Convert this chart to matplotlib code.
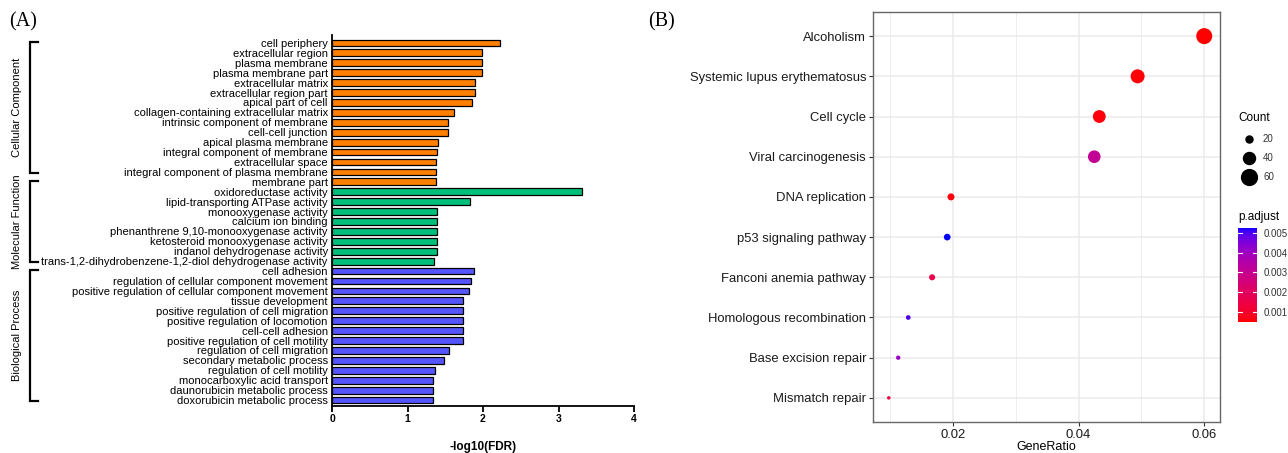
import numpy as np
import matplotlib
matplotlib.use("Agg")
import matplotlib.pyplot as plt
import matplotlib.transforms as mtransforms
from matplotlib.colors import ListedColormap, Normalize, to_rgb
from matplotlib.cm import ScalarMappable

W, H = 1288, 453

# ---- GO enrichment (panel A) ----
go_terms = [
    "cell periphery", "extracellular region", "plasma membrane",
    "plasma membrane part", "extracellular matrix", "extracellular region part",
    "apical part of cell", "collagen-containing extracellular matrix",
    "intrinsic component of membrane", "cell-cell junction",
    "apical plasma membrane", "integral component of membrane",
    "extracellular space", "integral component of plasma membrane",
    "membrane part",
    "oxidoreductase activity", "lipid-transporting ATPase activity",
    "monooxygenase activity", "calcium ion binding",
    "phenanthrene 9,10-monooxygenase activity",
    "ketosteroid monooxygenase activity", "indanol dehydrogenase activity",
    "trans-1,2-dihydrobenzene-1,2-diol dehydrogenase activity",
    "cell adhesion", "regulation of cellular component movement",
    "positive regulation of cellular component movement", "tissue development",
    "positive regulation of cell migration", "positive regulation of locomotion",
    "cell-cell adhesion", "positive regulation of cell motility",
    "regulation of cell migration", "secondary metabolic process",
    "regulation of cell motility", "monocarboxylic acid transport",
    "daunorubicin metabolic process", "doxorubicin metabolic process",
]
go_values = [
    2.22, 1.99, 1.99, 1.99, 1.90, 1.90, 1.85, 1.61, 1.54, 1.53,
    1.40, 1.39, 1.375, 1.375, 1.375,
    3.31, 1.83, 1.385, 1.385, 1.385, 1.385, 1.385, 1.35,
    1.88, 1.84, 1.82, 1.73, 1.73, 1.73, 1.73, 1.73, 1.55, 1.48,
    1.36, 1.34, 1.34, 1.34,
]
go_groups = (["Cellular Component"] * 15 + ["Molecular Function"] * 8
             + ["Biological Process"] * 14)
# first/last bar index covered by each side bracket
bracket_spans = {
    "Cellular Component": (0, 13),
    "Molecular Function": (14, 22),
    "Biological Process": (23, 36),
}
go_xticks = [0, 1, 2, 3, 4]

# ---- KEGG dot plot (panel B) ----
kegg_terms = [
    "Alcoholism", "Systemic lupus erythematosus", "Cell cycle",
    "Viral carcinogenesis", "DNA replication", "p53 signaling pathway",
    "Fanconi anemia pathway", "Homologous recombination",
    "Base excision repair", "Mismatch repair",
]
kegg_ratio = [0.0600, 0.0494, 0.0433, 0.0425, 0.0197, 0.0191, 0.0167,
              0.0129, 0.0113, 0.0098]
kegg_count = [61, 50, 44, 43, 20, 19, 17, 13, 12, 10]
kegg_padj = [0.00049, 0.00055, 0.00060, 0.00310, 0.00060, 0.00525,
             0.00160, 0.00500, 0.00410, 0.00130]
kegg_xticks = [0.02, 0.04, 0.06]
count_breaks = [20, 40, 60]
padj_breaks = [0.001, 0.002, 0.003, 0.004, 0.005]

group_colors = {
    "Cellular Component": "#FF8000",
    "Molecular Function": "#00BF7A",
    "Biological Process": "#5555FF",
}
narrow = ["Liberation Sans Narrow", "Liberation Sans", "DejaVu Sans"]
sans = ["Liberation Sans", "DejaVu Sans"]
serif = ["Liberation Serif", "DejaVu Serif"]


def _lab(rgb):
    c = np.asarray(rgb, float)
    c = np.where(c > 0.04045, ((c + 0.055) / 1.055) ** 2.4, c / 12.92)
    m = np.array([[0.4124, 0.3576, 0.1805],
                  [0.2126, 0.7152, 0.0722],
                  [0.0193, 0.1192, 0.9505]])
    xyz = m @ c / np.array([0.95047, 1.0, 1.08883])
    f = np.where(xyz > 0.008856, np.cbrt(xyz), 7.787 * xyz + 16 / 116)
    return np.array([116 * f[1] - 16, 500 * (f[0] - f[1]), 200 * (f[1] - f[2])])


def _rgb(lab):
    fy = (lab[0] + 16) / 116
    f = np.array([fy + lab[1] / 500, fy, fy - lab[2] / 200])
    xyz = np.where(f ** 3 > 0.008856, f ** 3, (f - 16 / 116) / 7.787)
    xyz = xyz * np.array([0.95047, 1.0, 1.08883])
    m = np.array([[3.2406, -1.5372, -0.4986],
                  [-0.9689, 1.8758, 0.0415],
                  [0.0557, -0.2040, 1.0570]])
    c = m @ xyz
    c = np.where(c > 0.0031308, 1.055 * np.clip(c, 0, None) ** (1 / 2.4) - 0.055, 12.92 * c)
    return np.clip(c, 0, 1)


def lab_ramp(low, high, n=256):
    a, b = _lab(to_rgb(low)), _lab(to_rgb(high))
    return ListedColormap([_rgb(a + (b - a) * t) for t in np.linspace(0, 1, n)])


def dot_px(count):
    lo, hi = np.sqrt(min(kegg_count)), np.sqrt(max(kegg_count))
    return 3.5 + (np.sqrt(count) - lo) / (hi - lo) * 12.5


def dot_area(count):
    return (dot_px(np.asarray(count, float)) * 0.72) ** 2


fig = plt.figure(figsize=(W / 100, H / 100), dpi=100)

# ---------------- panel A ----------------
ax = fig.add_axes([332 / W, (H - 406) / H, 302 / W, 371 / H])
ypos = np.arange(len(go_terms))
ax.barh(ypos, go_values, height=0.68,
        color=[group_colors[g] for g in go_groups],
        edgecolor="black", linewidth=0.9, zorder=2)
ax.set_ylim(len(go_terms) - 0.4, -0.8)
ax.set_xlim(0, 4)
ax.set_yticks(ypos)
ax.set_yticklabels(go_terms, family=narrow, fontsize=8)
ax.tick_params(axis="y", length=0, pad=3)
ax.set_xticks(go_xticks)
ax.set_xticklabels([str(t) for t in go_xticks], family=narrow,
                   fontsize=7.5, fontweight="bold")
ax.tick_params(axis="x", length=4, width=1.3, pad=2)
for side in ("top", "right"):
    ax.spines[side].set_visible(False)
for side in ("left", "bottom"):
    ax.spines[side].set_linewidth(1.3)
ax.set_xlabel("-log10(FDR)", family=narrow, fontsize=8.5, fontweight="bold",
              labelpad=12)

# side brackets grouping the GO categories
brk = mtransforms.blended_transform_factory(fig.transFigure, ax.transData)
for name, (i0, i1) in bracket_spans.items():
    x0, x1 = 30 / W, 38 / W
    ax.plot([x1, x0, x0, x1], [i0 - 0.1, i0 - 0.1, i1 + 0.1, i1 + 0.1],
            color="black", lw=1.6, transform=brk, clip_on=False,
            solid_joinstyle="miter")
    ax.text(17 / W, (i0 + i1) / 2, name, rotation=90, ha="center",
            va="center", fontsize=8, family=narrow, transform=brk)

fig.text(9 / W, 1 - 22 / H, "(A)", family=serif, fontsize=14.5, va="center")

# ---------------- panel B ----------------
bx = fig.add_axes([873 / W, (H - 422) / H, 347 / W, 410 / H])
cmap = lab_ramp("red", "blue")
norm = Normalize(min(kegg_padj), max(kegg_padj))
kpos = np.arange(len(kegg_terms))
bx.scatter(kegg_ratio, kpos, s=dot_area(kegg_count),
           c=cmap(norm(kegg_padj)), edgecolors="none", zorder=3)
rng = max(kegg_ratio) - min(kegg_ratio)
bx.set_xlim(min(kegg_ratio) - 0.05 * rng, max(kegg_ratio) + 0.05 * rng)
bx.set_ylim(len(kegg_terms) - 0.4, -0.6)
bx.set_yticks(kpos)
bx.set_yticklabels(kegg_terms, family=sans, fontsize=9.4, color="#1A1A1A")
bx.set_xticks(kegg_xticks)
bx.set_xticklabels([f"{t:.2f}" for t in kegg_xticks], family=sans,
                   fontsize=9.4, color="#1A1A1A")
bx.set_xticks([0.01, 0.03, 0.05], minor=True)
bx.tick_params(which="major", length=3, width=0.8, color="#333333", pad=2)
bx.tick_params(which="minor", length=0)
bx.grid(True, which="major", color="#EBEBEB", lw=1.1, zorder=0)
bx.grid(True, which="minor", axis="x", color="#EBEBEB", lw=0.6, zorder=0)
bx.set_axisbelow(True)
for sp in bx.spines.values():
    sp.set_color("#666666")
    sp.set_linewidth(1.0)
bx.set_xlabel("GeneRatio", family=sans, fontsize=9, labelpad=0)

fig.text(648 / W, 1 - 22 / H, "(B)", family=serif, fontsize=14.5, va="center")

# size legend
fig.text(1238 / W, 1 - 118 / H, "Count", family=sans, fontsize=8.5, va="center")
for k, cnt in enumerate(count_breaks):
    yk = 1 - (139 + 19 * k) / H
    fig.add_artist(plt.Line2D([1249 / W], [yk], marker="o", color="black",
                              markersize=dot_px(cnt) * 0.72, ls="none"))
    fig.text(1263 / W, yk, str(cnt), family=sans, fontsize=7,
             color="#333333", va="center")

# colour bar for p.adjust
fig.text(1238 / W, 1 - 217 / H, "p.adjust", family=sans, fontsize=8.5,
         va="center")
cax = fig.add_axes([1238 / W, (H - 322) / H, 19 / W, 94 / H])
cb = fig.colorbar(ScalarMappable(norm=norm, cmap=cmap), cax=cax)
cb.outline.set_visible(False)
cb.set_ticks(padj_breaks)
cb.set_ticklabels([f"{t:.3f}" for t in padj_breaks])
cax.tick_params(length=0, pad=5, labelsize=7, labelcolor="#333333")
for lbl in cax.get_yticklabels():
    lbl.set_family(sans)
for t in padj_breaks:
    cax.plot([0, 0.2], [t, t], color="white", lw=0.8)
    cax.plot([0.8, 1], [t, t], color="white", lw=0.8)

fig.savefig("out.png", dpi=100)
